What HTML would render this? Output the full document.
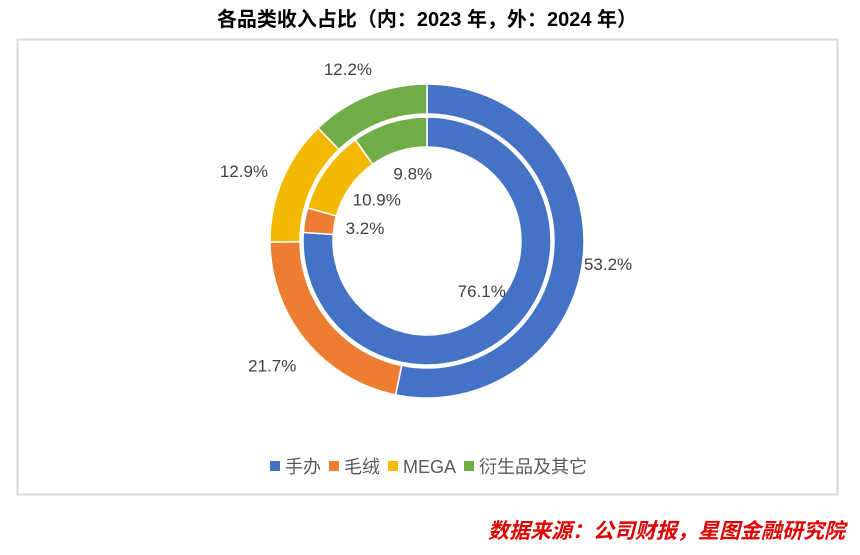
<!DOCTYPE html>
<html><head><meta charset="utf-8"><style>
body{margin:0;width:860px;height:550px;background:#fff;font-family:"Liberation Sans","Noto Sans CJK SC",sans-serif;overflow:hidden}
</style></head><body>
<svg width="860" height="550">
<text x="427" y="26" text-anchor="middle" font-size="20" font-weight="bold" fill="#000" font-family="Liberation Sans, Noto Sans CJK SC, sans-serif">各品类收入占比（内：2023 年，外：2024 年）</text>
<rect x="17.5" y="39.5" width="820" height="455" fill="#fff" stroke="#d9d9d9" stroke-width="2"/>
<g id="rings"></g>
<g id="legend"></g>
<text x="845" y="538" text-anchor="end" font-size="21" font-weight="bold" font-style="italic" fill="#e00000" font-family="Liberation Sans, Noto Sans CJK SC, sans-serif">数据来源：公司财报，星图金融研究院</text>
</svg>
<script>
const categories=["手办","毛绒","MEGA","衍生品及其它"];
const outer2024=[53.2,21.7,12.9,12.2];
const inner2023=[76.1,3.2,10.9,9.8];
const colors=["#4472C4","#ED7D31","#F2B900","#70AD47"];
const NS="http://www.w3.org/2000/svg";
const cx=427,cy=241;
const g=document.getElementById('rings');
function pt(r,a){return [cx+r*Math.sin(a),cy-r*Math.cos(a)];}
function ring(vals,r0,r1,lr,dx,dy,name){
  const tot=vals.reduce((a,b)=>a+b,0);let a=0;
  vals.forEach((v,i)=>{
    const a0=a/tot*2*Math.PI,a1=(a+v)/tot*2*Math.PI;a+=v;
    const large=(a1-a0)>Math.PI?1:0;
    const p1=pt(r1,a0),p2=pt(r1,a1),p3=pt(r0,a1),p4=pt(r0,a0);
    const p=document.createElementNS(NS,'path');
    p.setAttribute('d',`M${p1[0]},${p1[1]}A${r1},${r1} 0 ${large} 1 ${p2[0]},${p2[1]}L${p3[0]},${p3[1]}A${r0},${r0} 0 ${large} 0 ${p4[0]},${p4[1]}Z`);
    p.setAttribute('fill',colors[i]);p.setAttribute('stroke','#fff');p.setAttribute('stroke-width','1.5');
    
    
    g.appendChild(p);
    const m=(a0+a1)/2,lp=pt(lr,m);
    const t=document.createElementNS(NS,'text');
    t.setAttribute('x',lp[0]+dx);t.setAttribute('y',lp[1]+dy);t.setAttribute('text-anchor','middle');
    t.setAttribute('font-size','17');t.setAttribute('fill','#404040');
    t.textContent=v.toFixed(1)+'%';
    
    
    g.appendChild(t);
  });
}
ring(outer2024,127,157,190,-8,10,'outer-2024');
ring(inner2023,94,124,70,7,5,'inner-2023');
const lg=document.getElementById('legend');
let x=270;
categories.forEach((c,i)=>{
  const r=document.createElementNS(NS,'rect');
  r.setAttribute('x',x);r.setAttribute('y',461);r.setAttribute('width',10);r.setAttribute('height',10);r.setAttribute('fill',colors[i]);
  
  
  lg.appendChild(r);
  const t=document.createElementNS(NS,'text');
  t.setAttribute('x',x+15);t.setAttribute('y',473);t.setAttribute('font-size','18');t.setAttribute('fill','#595959');
  t.textContent=c;
  
  
  lg.appendChild(t);
  x+=15+t.getComputedTextLength()+8;
});
</script>
</body></html>
